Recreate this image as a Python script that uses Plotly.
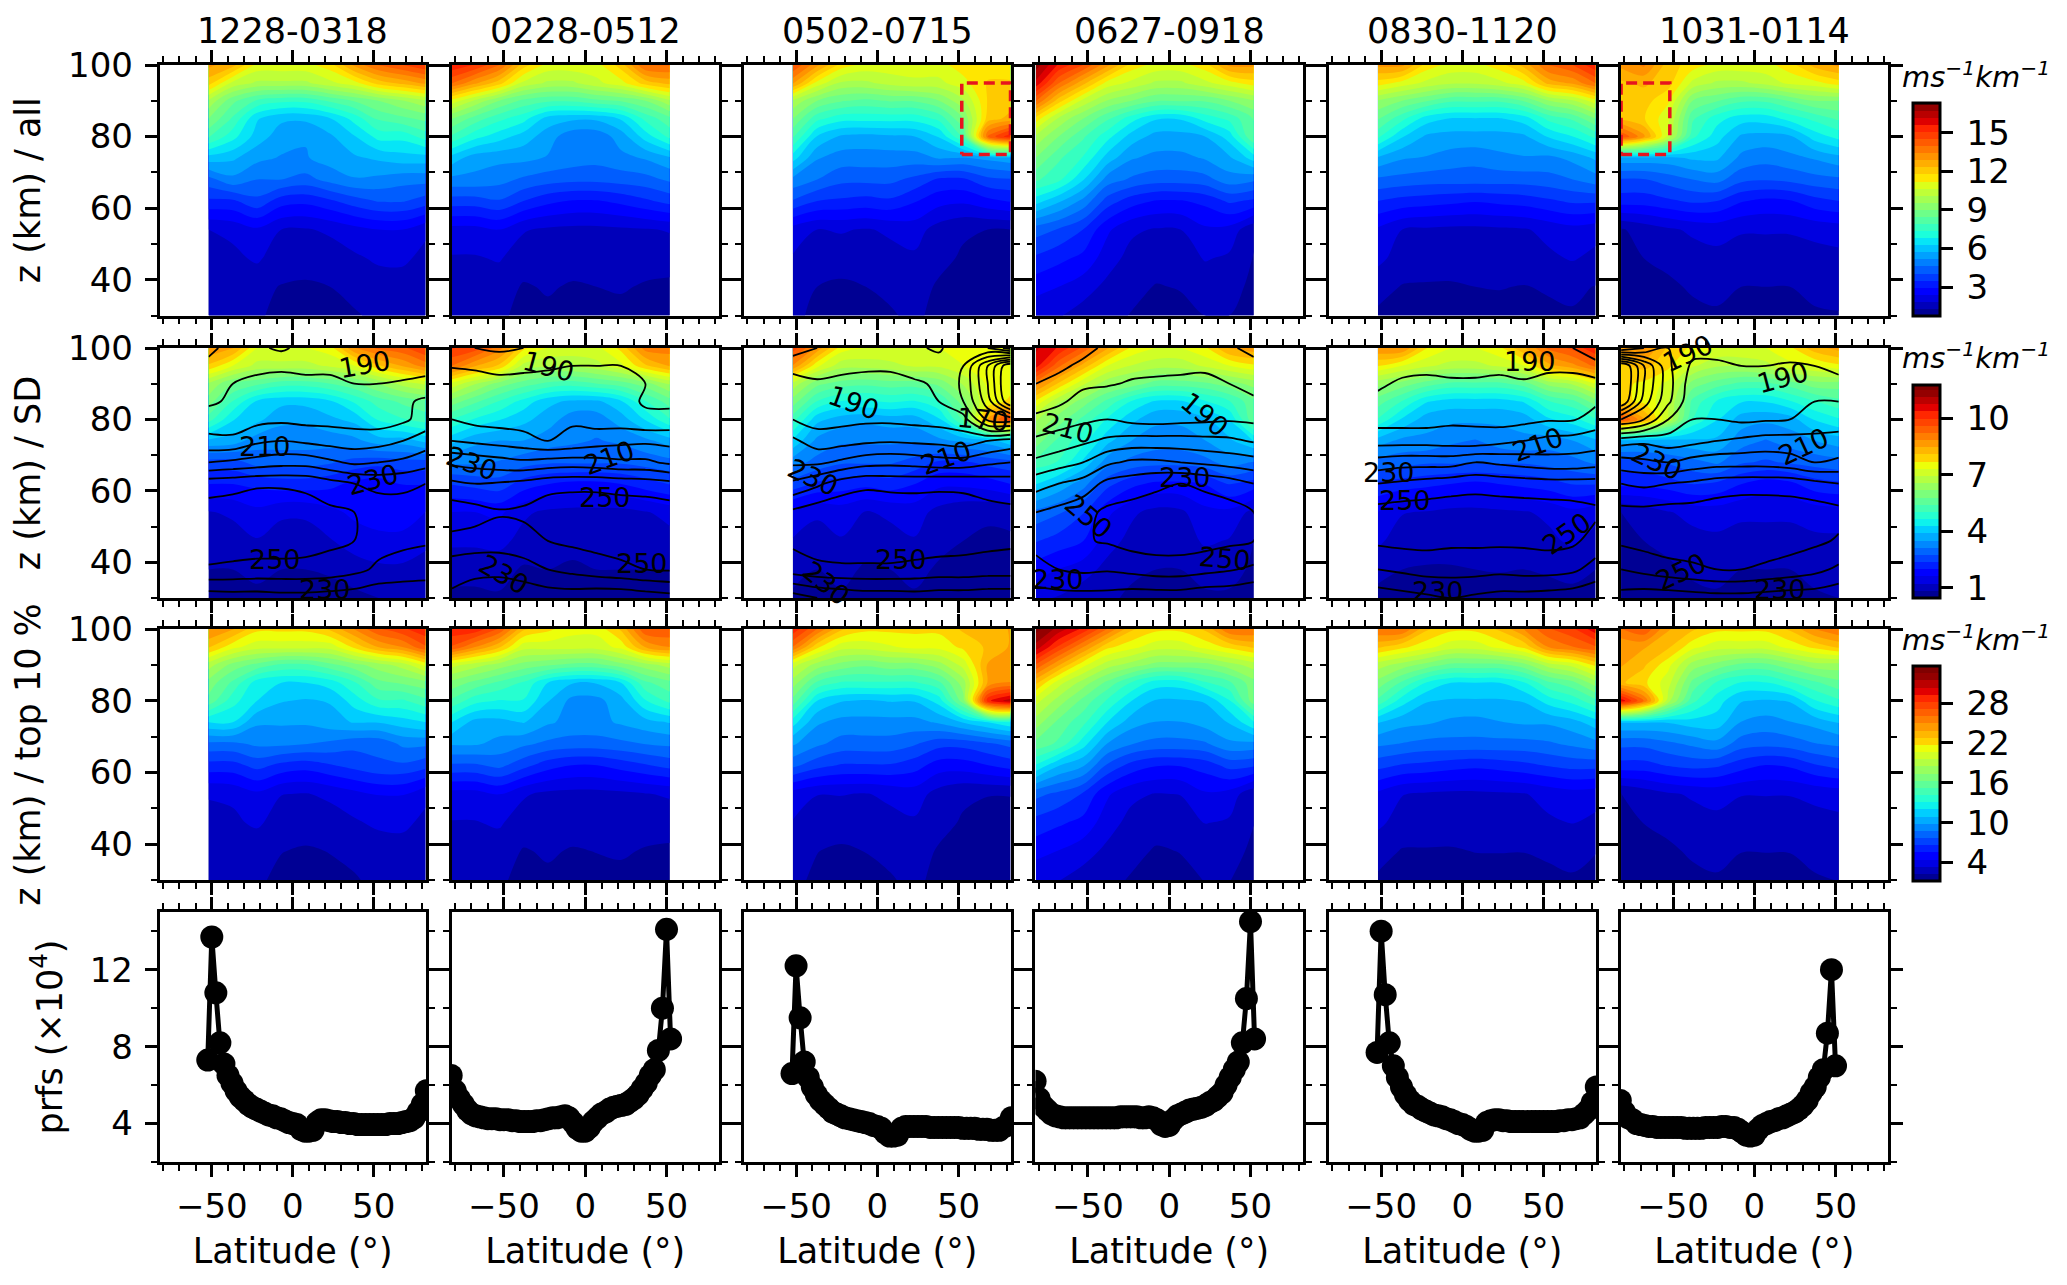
import plotly.graph_objects as go

TITLES = ["1228-0318", "0228-0512", "0502-0715", "0627-0918", "0830-1120", "1031-0114"]
ROW_LABELS = ["z (km) / all", "z (km) / SD", "z (km) / top 10 %", "prfs (×10<sup>4</sup>)"]
LAT_N = [-52, -37, -22, -7, 8, 23, 38, 53, 68, 82]
LAT_S = [-82, -68, -53, -38, -23, -8, 7, 22, 37, 52]
Z_KM = [100, 95, 90, 85, 80, 74, 68, 62, 54, 46, 38, 30]

ALL_1 = [[13,12.5,11,11,11,11.5,13,14,14.5,15],[12,10.5,10,10,10,10.5,11,12,12.5,13],[10,8.6,7.8,7.5,7.5,8,8.5,9,9.5,10],[9,7.8,6.3,5.8,5.8,6.2,7,8,8.3,8.6],[8,7,6,5.4,5.2,5.6,6.2,7,7,7.6],[6,5.8,5.3,5.1,5.1,5.4,5.6,5.8,6,6],[4.4,5,4.6,4.6,4.4,4.8,5.1,5,4.8,4.8],[3.4,3.4,3.9,3.2,3.1,3.4,3.8,4.1,4.1,3.8],[1.85,2,2.3,1.85,1.8,1.95,2.2,2.4,2.4,1.95],[1.75,1.7,1.95,1.5,1.45,1.55,1.75,1.95,1.95,1.7],[1.55,1.45,1.4,1.28,1.25,1.3,1.45,1.55,1.6,1.55],[1.4,1.35,1.35,1.2,1.2,1.2,1.25,1.4,1.45,1.4]]
ALL_2 = [[15.5,15,14,12,11,11,11,12,14,14],[14,13,12,10.5,10,10,10.5,11,12,12.5],[11,10,9,8.3,8,8,8.3,8.5,9,10],[9,8.2,7.5,7,6,5.8,5.8,6.3,7.5,8.3],[7.8,7,6.5,6,5.4,4.8,4.8,5.4,6.5,7.5],[6,5.4,5.3,5.3,5.1,4.9,4.8,5,5.2,5.6],[5,5,4.8,4.5,4.3,4.2,4.2,4.3,4.4,4.7],[3.8,3.8,4,3.5,3.1,2.9,2.9,3.1,3.4,3.7],[2.2,2.2,2.4,1.9,1.75,1.7,1.7,1.75,1.8,1.9],[1.8,1.8,1.9,1.55,1.5,1.5,1.5,1.5,1.5,1.5],[1.5,1.5,1.55,1.25,1.35,1.25,1.3,1.35,1.25,1.2],[1.3,1.35,1.4,1.15,1.2,1.1,1.15,1.15,1.1,1.05]]
ALL_3 = [[14.5,13,11.5,11,11,11,11,11.5,11.5,11.5],[13,11,10,10,10.3,10.5,10.5,11,11.8,11.8],[10,9,8.5,8.3,8.5,8.5,9,10,11.8,12],[9,7.5,7,7,7,7,7.5,9,12,12.5],[8,6.2,5.6,5.5,5.6,5.7,6.3,8,14,15.5],[6.5,5.2,4.9,4.9,4.9,4.9,5.2,5.1,5.3,5.5],[5,4.6,4.2,4.2,4.2,3.9,3.4,3.4,3.9,4],[4,3.5,3.4,3.3,3.4,3,2.6,2.5,2.8,3],[2.15,1.85,1.9,1.8,1.95,2.1,1.6,1.35,1.3,1.3],[1.8,1.5,1.55,1.5,1.65,1.75,1.4,1.25,1.2,1.2],[1.55,1.3,1.2,1.3,1.4,1.45,1.25,1.15,1.1,1.1],[1.4,1.2,1.15,1.15,1.25,1.4,1.15,1.1,1.05,1.05]]
ALL_4 = [[17,15.5,14.5,13,11.5,11,11,11.5,13,13],[16,14,12.5,11,10.5,10,10,10.5,11,11.5],[14,12,10.5,9.5,9,8.5,8.5,8.5,9,9.5],[11.5,10,9,8,7,6.3,6.3,7,7.5,8.5],[10,9,8,7,6,5.5,5.5,5.7,6.5,8.5],[9,8,7.3,6,5.2,5,5,5.2,5.6,6.5],[8,7.5,6.3,4.9,4.5,4.3,4.3,4.4,4.9,4.7],[6.5,5.8,5,3.8,3.2,2.9,2.9,3.1,3.6,3.4],[4.3,4,3.5,2.5,1.95,1.8,1.85,2.3,2.2,1.4],[3.4,3.1,2.8,2.1,1.65,1.45,1.5,1.9,1.75,1.27],[2.6,2.4,2.1,1.7,1.4,1.28,1.32,1.45,1.45,1.2],[2,1.9,1.6,1.4,1.28,1.2,1.2,1.3,1.3,1.15]]
ALL_5 = [[13,13,11.5,11,11,11.5,12.5,14,14.5,15.5],[11.5,11,10.5,10.2,10.2,10.5,11,12.5,13,14],[9.5,9,8.5,8,8,8,8.5,9.5,10,11],[8.5,7.5,6.5,6.2,6.2,6.2,6.5,7.5,8,9],[7.5,6.3,5.6,5.5,5.5,5.5,5.6,6.3,6.8,7.5],[5.6,5.2,5.1,4.9,4.8,5,5.1,5,5.3,5.8],[4.5,4.4,4.3,4.3,4.3,4.3,4.3,4.4,4.6,4.9],[3.5,3.3,3.2,3.1,3,3.1,3.2,3.4,3.6,3.6],[2.3,1.85,1.75,1.7,1.7,1.75,1.8,2,2.2,2.05],[2,1.6,1.55,1.5,1.55,1.6,1.6,1.75,1.9,1.7],[1.5,1.27,1.25,1.25,1.3,1.32,1.28,1.35,1.4,1.28],[1.2,1.15,1.1,1.1,1.1,1.15,1.1,1.2,1.25,1.2]]
ALL_6 = [[13,13.5,12,11.5,11,11,11,11.5,12.5,13],[12.2,12.4,12,10.5,10,10,10.3,10.8,11,11.5],[12.2,12,11.3,9,8.5,8,8,8.5,9,9],[12.2,11.8,10.8,8,7,6.5,6.5,7,7.5,8],[14.5,13,10.5,7.5,6.5,5.6,5.5,5.6,6.5,7],[5.5,5.5,5.5,5.8,5.8,5,4.8,5,5.2,5.5],[4,4,4.3,4.6,4.8,4.2,4.1,4.2,4.4,4.5],[3.2,3.2,3.4,3.6,3.5,3,2.8,2.9,3.3,3.5],[1.25,1.5,1.75,1.95,2.05,1.9,1.9,1.9,2,2.1],[1.1,1.3,1.5,1.6,1.7,1.6,1.6,1.6,1.65,1.7],[1.05,1.1,1.15,1.4,1.4,1.3,1.3,1.3,1.4,1.4],[1.05,1.05,1.05,1.1,1.25,1.1,1.1,1.15,1.25,1.28]]

SD_1 = [[8.8,8.5,7.3,7.3,7.3,7.5,8.8,9.3,9.5,10],[8,7.3,6.8,6.8,6.8,7,7.3,8,8.5,9],[6.5,5.8,5.5,5.2,5.2,5.4,5.7,6.2,6.7,7],[6,5,4.2,4,4,4.2,4.7,5.2,5.5,5.7],[5.2,4.3,4,3.6,3.6,3.8,4,4.7,5,5.2],[3.8,3.7,3.3,3.3,3.3,3.3,3.4,3.7,3.7,4],[2.6,2.6,2.9,2.9,2.9,2.8,2.6,2.5,2.6,2.6],[2,2,2.1,2.2,2.2,2.1,1.9,1.8,2,2],[1.2,1.3,1.5,1.3,1.3,1.5,1.7,1.8,1.8,1.6],[1.05,1.05,1.2,1.05,1.05,1.2,1.4,1.5,1.5,1.3],[.85,.85,.95,.85,.85,.9,1.05,1.15,1.15,1.1],[.7,.7,.75,.7,.7,.7,.75,.85,.9,.9]]
SD_2 = [[10,9.8,9,7.8,7.3,7.2,7.2,7.8,9,9],[9.2,8.5,8,6.8,6.6,6.6,6.8,7.2,8,8.5],[7.2,6.6,6,5.6,5.3,5.2,5.4,5.6,6,6.6],[6,5.5,5,4.5,4,3.8,3.8,4.2,5,5.6],[5,4.6,4.3,4,3.7,3.3,3.3,3.7,4.3,5],[4,3.6,3.5,3.5,3.3,3.2,3.1,3.2,3.4,3.7],[3.2,3.2,3.1,2.9,2.8,2.8,2.8,2.8,2.9,3],[2.4,2.5,2.6,2.2,2,1.9,1.9,2,2.2,2.4],[1.6,1.6,1.7,1.3,1.15,1.1,1.1,1.1,1.2,1.35],[1.3,1.3,1.35,1.1,1,.95,.95,1,1.05,1.1],[1,1,1,.8,.85,.8,.85,.85,.85,.85],[.75,.75,.8,.65,.65,.65,.65,.65,.65,.65]]
SD_3 = [[9.8,8.7,7.5,7.3,7.3,7.3,7.3,7.6,7.6,7.6],[8.8,7.4,6.7,6.7,6.8,7,7,7.3,7.5,7.5],[6.8,5.9,5.6,5.5,5.6,5.6,5.9,6.6,7.4,7.5],[6,5,4.6,4.6,4.7,4.6,5,6,7.4,7.8],[5.2,4,3.7,3.6,3.7,3.7,4.2,5.5,8.5,10],[4.2,3.4,3.2,3.2,3.2,3.2,3.4,3.6,3.7,4.2],[3.3,3,2.8,2.8,2.8,2.6,2.3,2.3,2.5,2.6],[2.6,2.3,2.2,2.1,2.2,2,1.7,1.7,1.8,2],[1.5,1.3,1.4,1.2,1.3,1.4,1.1,.95,.9,.95],[1.2,1.05,1.2,1,1.1,1.2,.95,.85,.8,.8],[.95,.85,.95,.8,.85,.95,.8,.75,.7,.7],[.8,.7,.8,.65,.65,.8,.65,.6,.6,.6]]
SD_4 = [[10.8,10.3,9.5,8.5,7.6,7.3,7.3,7.6,8.5,8.7],[10.5,9.3,8.3,7.3,6.9,6.7,6.7,7,7.3,7.6],[9,8,7,6.3,6,5.6,5.6,5.7,6,6.3],[7.6,6.6,6,5.3,4.6,4.2,4.2,4.6,5,5.7],[6.6,6,5.3,4.6,4,3.6,3.6,3.8,4.3,5.7],[6,5.3,4.8,4,3.5,3.3,3.3,3.5,3.8,4.3],[5.3,5,4.2,3.3,3,2.9,2.9,3,3.3,3.1],[4.3,3.8,3.3,2.5,2.1,1.9,1.9,2,2.4,2.2],[3,2.8,2.4,1.7,1.3,1.1,1.15,1.5,1.5,1.1],[2.4,2.2,2,1.4,1.1,.95,1,1.3,1.2,.85],[1.8,1.6,1.4,1.1,.9,.85,.85,.95,.95,.8],[1.3,1.2,1,.9,.8,.7,.7,.8,.8,.7]]
SD_5 = [[8.8,8.8,7.7,7.3,7.3,7.6,8.4,9.3,9.7,10.3],[7.7,7.3,7,6.8,6.8,7,7.3,8.3,8.7,9.3],[6.3,6,5.6,5.3,5.3,5.3,5.6,6.3,6.6,7.3],[5.6,5,4.3,4.1,4.1,4.1,4.3,5,5.3,6],[5,4.2,3.7,3.6,3.6,3.6,3.7,4.2,4.5,5],[3.7,3.4,3.4,3.2,3.1,3.3,3.4,3.3,3.5,3.8],[3,2.9,2.8,2.8,2.8,2.8,2.8,2.9,3,3.2],[2.3,2.2,2.1,2,1.9,2,2.1,2.2,2.4,2.4],[1.6,1.25,1.2,1.1,1.1,1.15,1.2,1.3,1.5,1.35],[1.3,1.05,1,1,1,1.05,1.05,1.15,1.3,1.1],[1,.85,.82,.82,.85,.87,.85,.9,.95,.85],[.7,.7,.65,.65,.65,.7,.65,.7,.75,.7]]
SD_6 = [[8.6,8.9,8,7.6,7.3,7.3,7.3,7.6,8.3,8.6],[8,8.2,7.8,7,6.6,6.6,6.8,7.2,7.3,7.6],[7.8,7.6,7.2,6,5.6,5.3,5.3,5.6,6,6],[7.8,7.6,7,5.3,4.6,4.3,4.3,4.6,5,5.3],[9.7,8.5,6.9,5,4.3,3.7,3.6,3.7,4.3,4.6],[3.7,3.7,3.7,3.8,3.8,3.3,3.1,3.3,3.5,3.7],[2.6,2.6,2.8,3,3.2,2.8,2.7,2.8,2.9,3],[2.1,2.1,2.2,2.4,2.3,2,1.8,1.9,2.2,2.3],[.85,1,1.2,1.35,1.4,1.3,1.3,1.3,1.4,1.45],[.7,.85,1,1.1,1.15,1.1,1.1,1.1,1.15,1.15],[.65,.7,.75,.95,.95,.85,.85,.85,.95,.95],[.65,.65,.65,.7,.8,.7,.7,.7,.8,.85]]

TOP_1 = [[25,24,22,22,22,23,25,27,28,29],[23,21,20,20,20,20,22,24,25,27],[19,17,16,15,15,16,17,18,19,21],[17,15,12.5,12,12,12.5,14,16,16.5,17],[16,13.5,12,11,10.8,11,12.5,14,14,15],[12,12,10,10,10,10.5,11,11,11.5,12],[8.5,8.5,9,9,8.8,8.5,8,8,9,9],[6.2,6.2,7,6.3,6,6.5,7,7.5,7.5,7],[3.4,3.6,4.2,3.4,3.3,3.6,4.1,4.5,4.5,3.6],[3.2,3.1,3.6,2.7,2.6,2.8,3.2,3.6,3.6,3.1],[2.7,2.5,2.4,2.3,2.2,2.3,2.5,2.7,2.9,2.7],[2.5,2.4,2.4,2.1,2.1,2.1,2.2,2.5,2.6,2.5]]
TOP_2 = [[29,29,27,23,22,21,21,23,27,27],[27,25,23,20,20,20,20,21,24,25],[20,19,18,17,16.5,16,16,17,18,19],[17,16,15,14,12,11,11,12,15,16],[15,13.5,13,13,11,9.5,9.5,10.5,13,14.5],[12,10.5,10.5,11,10,9.5,9.5,10,10.5,11],[10,10,9.5,9,8.5,8.3,8.3,8.5,8.8,9],[7.5,7.5,8,7,6,5.5,5.5,6,6.5,7],[4,4,4.5,3.5,3.1,3,3,3.1,3.3,3.5],[3.3,3.3,3.5,2.8,2.7,2.7,2.7,2.7,2.7,2.7],[2.7,2.7,2.8,2.2,2.4,2.2,2.3,2.4,2.2,2.1],[2.3,2.4,2.5,1.9,2.1,1.9,2,2,1.9,1.8]]
TOP_3 = [[29,26,23,22,22,22,22,23,23,24],[26,22,20,20,20.5,21,21,22,23,24],[20,18,17,16.5,17,17,18,20,24,24],[18,15,14,14,14,14,15,18,24,25],[16,12,11,10.8,11,11,12.5,17,29,31],[12.5,10,9.5,9.5,9.5,9.5,10,11,12,13],[10,9,8.3,8.3,8.3,7.8,7,7,7.5,8],[8,7,6.5,6.5,6.5,6,5,5,5.5,6],[3.9,3.4,3.4,3.3,3.6,3.9,2.9,2.4,2.3,2.3],[3.3,2.7,2.8,2.7,3,3.2,2.5,2.2,2.1,2.1],[2.7,2.3,2.1,2.3,2.5,2.6,2.2,2,1.9,1.9],[2.5,2.1,2,2,2.2,2.5,2,1.9,1.8,1.8]]
TOP_4 = [[33,31,29,26,23,22,22,23,26,26],[31,28,25,22,21,20,20,21,22,23],[27,24,21,19,18,17,17,17,18,19],[23,20,18,16,14,12.5,12.5,14,15,17],[20,18,16,14,12,10.8,10.8,11,13,17],[18,16,14.5,12,10.3,9.8,9.8,10.3,11,13],[16,15,12.5,9.8,8.8,8.4,8.4,8.6,9.6,9.5],[13,11,10,7.5,6.2,5.6,5.6,6,7,6.8],[8,7.4,6.5,4.6,3.6,3.3,3.4,4.3,4,2.5],[6.2,5.7,5.2,3.8,3,2.6,2.7,3.4,3.2,2.3],[4.8,4.4,3.8,3.1,2.5,2.2,2.3,2.6,2.6,2.1],[3.6,3.4,2.9,2.5,2.2,2.1,2.1,2.3,2.3,2]]
TOP_5 = [[26,26,23,22,22,23,25,27,28,30],[23,22,21,20,20,21,22,25,26,27],[19,18,17,16,16,16,17,19,20,22],[17,15,13,12,12,12,13,15,16,18],[15,12.5,11,10.8,10.8,10.8,11,12.5,13.5,15],[11,10.2,10,9.6,9.5,9.8,10,10,10.5,11.5],[9,8.7,8.4,8.4,8.4,8.4,8.4,8.6,9,9.5],[7,6.5,6.3,6,5.8,6,6.3,6.7,7,7],[4.2,3.4,3.2,3.1,3.1,3.2,3.3,3.7,4,3.8],[3.6,2.9,2.8,2.7,2.8,2.9,2.9,3.2,3.4,3.1],[2.7,2.2,2.2,2.2,2.3,2.3,2.3,2.4,2.5,2.3],[2.1,2,1.9,1.9,1.9,2,1.9,2.1,2.2,2.1]]
TOP_6 = [[26,27,24,23,22,22,22,23,25,26],[24,24,23,21,20,20,20,21,22,23],[24,23,21,18,17,16,16,17,18,18],[23,22,20,16,14,13,13,14,15,16],[30,26,19,14.5,12.5,11,10.8,11,13,14],[11,11,11,11.5,11.5,9.8,9.4,9.8,10.2,11],[8,8,8.5,9,9.5,8.2,8,8.2,8.7,9],[6.2,6.2,6.7,7,6.8,6,5.5,5.7,6.5,7],[2.2,2.7,3.2,3.5,3.7,3.4,3.4,3.4,3.6,3.8],[1.9,2.3,2.7,2.9,3.1,2.9,2.9,2.9,3,3.1],[1.9,1.9,2,2.5,2.5,2.3,2.3,2.3,2.5,2.5],[1.8,1.8,1.8,1.9,2.2,1.9,1.9,2,2.2,2.3]]

T_1 = [[178,183,182,178,184,186,186,182,182,180],[182,186,188,189,188,188,188,186,186,186],[186,190,192,192,192,192,190,190,191,193],[188,192,193,194,194,193,192,192,198,202],[196,195,197,198,197,197,196,195,198,204],[202,202,208,210,208,206,205,206,210,215],[220,222,224,226,226,222,218,220,222,226],[246,247,249,249,248,244,240,237,238,240],[254,255,255,255,254,252,250,246,244,243],[255,255,255,255,254,252,250,244,242,241],[249,248,247,247,247,246,243,238,236,235],[224,225,225,226,226,225,224,222,222,222]]
T_2 = [[182,180,178,180,183,185,184,184,183,182],[189,188,187,188,189,190,190,190,188,186],[198,196,193,193,193,193,193,193,190,187],[197,195,194,194,195,199,195,193,189,188],[200,197,196,195,196,199,196,195,192,193],[210,208,206,204,200,202,205,207,208,207],[228,226,224,222,224,225,224,222,222,218],[242,240,241,243,246,247,247,246,245,243],[256,254,251,252,256,257,257,256,256,255],[247,246,245,246,250,252,253,254,255,255],[234,232,233,236,240,243,246,248,250,251],[228,226,222,222,224,224,222,222,224,226]]
T_3 = [[176,180,183,184,184,182,178,190,190,205],[185,187,188,189,189,187,186,180,150,120],[196,191,192,192,192,191,189,178,150,115],[195,192,194,194,194,194,190,180,155,120],[200,196,197,198,198,197,196,194,168,165],[212,205,206,208,209,208,207,205,210,214],[218,218,222,226,227,226,224,224,228,230],[232,238,245,248,247,247,248,248,246,245],[252,256,257,257,257,256,255,254,253,252],[252,256,257,257,257,256,255,254,253,252],[245,247,248,248,248,247,246,246,245,245],[215,220,222,224,224,225,224,224,223,223]]
T_4 = [[170,172,177,182,184,185,184,183,182,176],[176,178,182,186,187,187,188,188,186,184],[180,183,188,189,191,192,192,193,190,186],[186,188,194,196,193,194,194,194,195,192],[192,196,198,200,197,196,197,198,199,198],[202,204,208,212,214,214,214,213,212,209],[212,216,220,228,232,232,230,228,226,224],[226,230,234,243,245,248,250,248,245,240],[240,243,247,252,254,255,256,255,254,250],[244,246,249,251,254,255,255,254,252,250],[236,240,242,241,243,245,245,243,241,238],[226,226,226,226,224,224,224,222,222,220]]
T_5 = [[180,182,184,184,184,184,184,184,180,176],[184,186,188,188,188,188,187,188,186,182],[188,192,192,191,191,192,191,193,196,194],[193,194,194,196,196,194,192,193,197,198],[196,196,196,198,198,196,197,199,199,205],[206,206,206,205,204,207,210,213,214,215],[224,226,226,226,230,228,226,224,224,226],[240,242,244,246,247,246,245,244,244,244],[254,255,255,255,255,255,255,255,254,252],[252,253,253,252,252,252,252,253,252,246],[240,242,244,244,244,243,244,244,242,236],[224,226,228,230,228,226,226,225,224,222]]
T_6 = [[200,190,180,186,186,184,182,186,186,184],[118,150,178,192,192,190,190,191,190,188],[115,150,176,196,196,193,192,193,194,192],[120,155,178,198,198,195,195,196,200,200],[160,170,190,200,200,198,199,200,202,206],[206,208,205,207,210,212,214,214,214,213],[224,222,220,224,226,226,226,224,220,222],[240,238,240,242,245,246,246,246,243,240],[253,253,254,254,255,256,256,255,255,253],[252,254,256,256,256,256,256,254,252,249],[240,243,246,248,250,250,248,246,243,238],[226,224,224,225,226,226,225,224,224,222]]

LABEL_PANEL = [0, 0, 0, 0, 0, 1, 1, 1, 1, 1, 1, 2, 2, 2, 2, 2, 2, 3, 3, 3, 3, 3, 3, 4, 4, 4, 4, 4, 4, 5, 5, 5, 5, 5, 5]
LABEL_TEXT = [190, 210, 230, 250, 230, 190, 230, 210, 250, 250, 230, 190, 170, 210, 230, 250, 230, 210, 190, 230, 250, 250, 230, 190, 210, 230, 250, 250, 230, 190, 190, 210, 230, 250, 230]
LABEL_LAT = [44.4, -17.4, 49.6, -10.7, 20, -22.4, -69.6, 14.9, 12.2, 34.7, -50, -14.6, 65.2, 42.5, -39.4, 14.6, -31.5, -62, 21.8, 10, -49.6, 34.5, -68.5, 41.6, 46.6, -44.9, -35.3, 64.3, -15, 17.7, -41, 30.3, -60, -45, 15.6]
LABEL_Z = [95.3, 72.3, 63.2, 40.7, 32.4, 94.9, 67.7, 69.4, 58, 39.6, 36.6, 84.8, 80, 69.4, 63.7, 40.7, 34, 77.4, 81.4, 63.7, 52.9, 41, 35.2, 96.2, 72.9, 65.2, 57.2, 48, 31.8, 91.7, 98.5, 72.3, 68.3, 37.5, 32.4]
LABEL_ANGLE = [-10, 0, -15, 0, 0, 15, 20, -20, 0, 0, 30, 20, 5, -20, 25, 0, 40, 15, 40, 0, 40, 5, 0, 0, -20, 0, 0, -35, 0, -15, -25, -25, 25, -25, 0]

PRF_LAT = [-82.5,-80,-77.5,-75,-72.5,-70,-67.5,-65,-62.5,-60,-57.5,-55,-52.5,-50,-47.5,-45,-42.5,-40,-37.5,-35,-32.5,-30,-27.5,-25,-22.5,-20,-17.5,-15,-12.5,-10,-7.5,-5,-2.5,0,2.5,5,7.5,10,12.5,15,17.5,20,22.5,25,27.5,30,32.5,35,37.5,40,42.5,45,47.5,50,52.5,55,57.5,60,62.5,65,67.5,70,72.5,75,77.5,80,82.5]
PRF_1 = [7.3,13.7,10.8,8.2,7.1,6.5,6.1,5.7,5.4,5.2,5,4.85,4.75,4.65,4.55,4.45,4.4,4.3,4.25,4.15,4.05,4,3.95,3.7,3.6,3.6,3.65,4.05,4.2,4.2,4.15,4.1,4.1,4.05,4.05,4,4,3.95,3.95,3.95,3.95,3.95,3.95,3.95,3.95,4,4,4,4.05,4.1,4.15,4.3,4.6,5,5.7]
PRF_2 = [6.5,5.7,5.3,5,4.7,4.5,4.4,4.35,4.3,4.25,4.25,4.25,4.2,4.2,4.2,4.15,4.15,4.1,4.1,4.1,4.1,4.15,4.15,4.2,4.25,4.3,4.3,4.35,4.4,4.3,4.05,3.75,3.6,3.6,3.8,4.1,4.3,4.5,4.6,4.75,4.85,4.9,4.95,5,5.15,5.3,5.5,5.8,6.1,6.5,6.8,7.8,10,14.1,8.4]
PRF_3 = [6.6,12.2,9.5,7.2,6.4,5.9,5.5,5.2,5,4.8,4.6,4.5,4.4,4.3,4.25,4.2,4.15,4.1,4.05,4,3.9,3.85,3.75,3.5,3.35,3.35,3.4,3.75,3.85,3.85,3.85,3.85,3.85,3.85,3.8,3.8,3.8,3.8,3.8,3.8,3.8,3.8,3.75,3.75,3.75,3.75,3.7,3.7,3.7,3.65,3.65,3.65,3.8,3.9,4.3]
PRF_4 = [6.2,5.3,4.9,4.7,4.5,4.4,4.35,4.3,4.3,4.3,4.3,4.3,4.3,4.3,4.3,4.3,4.3,4.3,4.3,4.3,4.3,4.35,4.35,4.35,4.35,4.35,4.3,4.3,4.35,4.3,4.2,3.95,3.85,3.9,4.2,4.4,4.5,4.6,4.7,4.75,4.8,4.85,4.95,5.1,5.2,5.4,5.6,6,6.4,6.8,7.2,8.2,10.5,14.5,8.4]
PRF_5 = [7.7,14,10.7,8.2,7,6.4,5.9,5.5,5.2,5,4.9,4.75,4.65,4.55,4.45,4.4,4.35,4.25,4.2,4.1,4,3.95,3.85,3.7,3.6,3.6,3.65,4.05,4.15,4.2,4.2,4.15,4.15,4.1,4.1,4.1,4.1,4.1,4.1,4.1,4.1,4.1,4.1,4.1,4.1,4.15,4.15,4.2,4.2,4.25,4.3,4.5,4.7,5.1,5.9]
PRF_6 = [5.2,4.6,4.3,4.2,4,3.95,3.9,3.85,3.85,3.8,3.8,3.8,3.8,3.8,3.8,3.8,3.75,3.75,3.75,3.75,3.75,3.8,3.8,3.8,3.8,3.85,3.85,3.8,3.8,3.7,3.55,3.4,3.35,3.4,3.7,3.9,4,4.1,4.15,4.25,4.3,4.4,4.5,4.6,4.75,4.95,5.2,5.6,5.9,6.4,6.8,8.7,12,7]

BOX_LAT_3 = [52, 82, 82, 52, 52]
BOX_LAT_6 = [-82, -52, -52, -82, -82]
BOX_Z = [75, 75, 95, 95, 75]

FIELDS = [[ALL_1, ALL_2, ALL_3, ALL_4, ALL_5, ALL_6], [SD_1, SD_2, SD_3, SD_4, SD_5, SD_6], [TOP_1, TOP_2, TOP_3, TOP_4, TOP_5, TOP_6]]
TEMPS = [T_1, T_2, T_3, T_4, T_5, T_6]
PRFS = [PRF_1, PRF_2, PRF_3, PRF_4, PRF_5, PRF_6]

# matplotlib "jet"
JET = [[0, "rgb(0,0,128)"], [0.11, "rgb(0,0,255)"], [0.125, "rgb(0,0,255)"], [0.34, "rgb(0,219,255)"], [0.375, "rgb(20,255,226)"],
       [0.64, "rgb(238,255,8)"], [0.65, "rgb(255,230,0)"], [0.89, "rgb(255,30,0)"], [0.91, "rgb(230,0,0)"], [1, "rgb(128,0,0)"]]
# zmin, zmax, contour step, colourbar tick0, dtick
SCALES = [(0.75, 17.3, 0.55, 3, 3), (0.47, 11.75, 0.38, 1, 3), (1.2, 33.6, 1.08, 4, 6)]

W, H = 2067, 1285
FONT = "DejaVu Sans"
PANEL_X = [(159.5, 426), (451.5, 719), (743.6, 1011), (1035.4, 1303), (1328.7, 1596), (1620.6, 1888)]
PANEL_Y = [(65, 315.5), (348, 598), (629, 880), (912, 1162)]
CBAR_Y = [(103, 316), (385, 598), (666, 881)]
UNIT_Y = [75, 356, 638]

fig = go.Figure()
layout = {}


def axid(r, c):
    n = r * 6 + c + 1
    return ("x" if n == 1 else f"x{n}"), ("y" if n == 1 else f"y{n}")


def key(a):
    return a[0] + "axis" + a[1:]


for r in range(4):
    for c in range(6):
        xa, ya = axid(r, c)
        base = dict(showline=True, linewidth=2.5, linecolor="black", mirror="allticks", ticks="outside", ticklen=12,
                    tickwidth=2.5, tickcolor="black", showgrid=False, zeroline=False, layer="above traces",
                    tickfont=dict(family=FONT, size=34, color="black"))
        layout[key(xa)] = dict(base, anchor=ya, domain=[PANEL_X[c][0] / W, PANEL_X[c][1] / W], range=[-82.3, 82.3],
                               tick0=0, dtick=50, showticklabels=(r == 3),
                               minor=dict(ticks="outside", ticklen=6, tickwidth=2, tick0=0, dtick=10, tickcolor="black", showgrid=False))
        if r == 3:
            layout[key(xa)]["title"] = dict(text="Latitude (°)", standoff=14, font=dict(family=FONT, size=35, color="black"))
        yrange, y0, yd, ym = ([30, 100], 0, 20, 10) if r < 3 else ([2, 15], 0, 4, 2)
        layout[key(ya)] = dict(base, anchor=xa, domain=[1 - PANEL_Y[r][1] / H, 1 - PANEL_Y[r][0] / H], range=yrange,
                               tick0=y0, dtick=yd, showticklabels=(c == 0), ticklabelstandoff=5,
                               minor=dict(ticks="outside", ticklen=6, tickwidth=2, tick0=y0, dtick=ym, tickcolor="black", showgrid=False))
        if c == 0:
            layout[key(ya)]["title"] = dict(text=ROW_LABELS[r], standoff=17, font=dict(family=FONT, size=35, color="black"))

        lat = LAT_N if c % 2 == 0 else LAT_S
        if r < 3:
            zmin, zmax, step, t0, dt = SCALES[r]
            trace = dict(x=lat, y=Z_KM[::-1], z=FIELDS[r][c][::-1], xaxis=xa, yaxis=ya, colorscale=JET, zmin=zmin, zmax=zmax,
                         autocontour=False, contours=dict(coloring="fill", start=zmin, end=zmax, size=step, showlines=False),
                         line=dict(width=0, smoothing=1), hoverinfo="skip", showscale=(c == 0))
            if c == 0:
                trace["colorbar"] = dict(x=1912.5 / W, xanchor="left", xpad=0, ypad=0, y=1 - CBAR_Y[r][1] / H, yanchor="bottom",
                                         len=(CBAR_Y[r][1] - CBAR_Y[r][0]) / H, lenmode="fraction", thickness=27,
                                         thicknessmode="pixels", outlinewidth=3, outlinecolor="black", ticks="outside",
                                         ticklen=12, tickwidth=2.5, tickcolor="black", tick0=t0, dtick=dt, tickprefix="\u2009",
                                         tickfont=dict(family=FONT, size=34, color="black"))
            fig.add_trace(go.Contour(**trace))
        if r == 1:
            fig.add_trace(go.Contour(
                x=lat, y=Z_KM[::-1], z=TEMPS[c][::-1], xaxis=xa, yaxis=ya, colorscale=[[0, "black"], [1, "black"]],
                showscale=False, hoverinfo="skip", autocontour=False, line=dict(color="black", width=1.8, smoothing=1),
                contours=dict(coloring="lines", start=130, end=250, size=10)))
        if r == 3:
            y = PRFS[c]
            x = PRF_LAT[:len(y)] if c % 2 == 1 else PRF_LAT[-len(y):]
            fig.add_trace(go.Scatter(x=x, y=y, xaxis=xa, yaxis=ya, mode="lines+markers", cliponaxis=True, hoverinfo="skip",
                                     line=dict(color="black", width=5), marker=dict(color="black", size=23)))

for c, bx in ((2, BOX_LAT_3), (5, BOX_LAT_6)):
    xa, ya = axid(0, c)
    fig.add_trace(go.Scatter(x=bx, y=BOX_Z, xaxis=xa, yaxis=ya, mode="lines", hoverinfo="skip",
                             line=dict(color="rgb(230,20,30)", width=3.5, dash="11px,6px")))

ann = []
for c, t in enumerate(TITLES):
    ann.append(dict(text=t, xref="paper", yref="paper", x=(PANEL_X[c][0] + PANEL_X[c][1]) / 2 / W, y=1 - 31 / H, xanchor="center",
                    yanchor="middle", showarrow=False, font=dict(family=FONT, size=35, color="black")))
for uy in UNIT_Y:
    ann.append(dict(text="<i>ms<sup>−1</sup>km<sup>−1</sup></i>", xref="paper", yref="paper", x=1976 / W, y=1 - uy / H, xanchor="center",
                    yanchor="middle", showarrow=False, font=dict(family=FONT, size=29, color="black")))
for p, txt, la, zk, ang in zip(LABEL_PANEL, LABEL_TEXT, LABEL_LAT, LABEL_Z, LABEL_ANGLE):
    xa, ya = axid(1, p)
    ann.append(dict(text=str(txt), xref=xa, yref=ya, x=la, y=zk, xanchor="center", yanchor="middle", showarrow=False,
                    textangle=ang, font=dict(family=FONT, size=27, color="black")))

fig.update_layout(width=W, height=H, margin=dict(l=0, r=0, t=0, b=0, autoexpand=False), paper_bgcolor="white", plot_bgcolor="white",
                  showlegend=False, annotations=ann, **layout)
fig.write_html("out.html", config=dict(displayModeBar=False), post_script="document.body.style.margin='0';")
